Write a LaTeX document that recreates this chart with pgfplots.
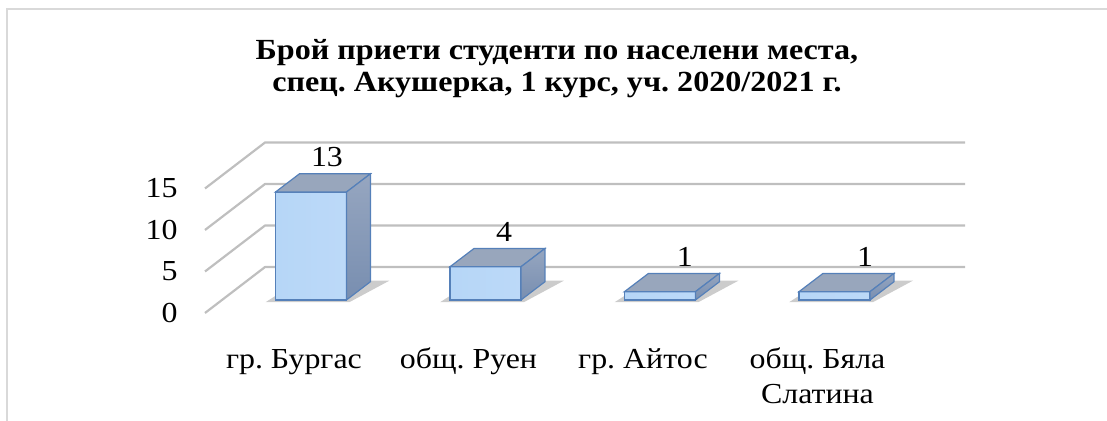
\documentclass[border=0pt]{standalone}
\usepackage{pgfplots}
\pgfplotsset{compat=1.18}
\usepackage{pgfplotstable}
\usepackage{fontspec}
\setmainfont{Liberation Serif}[FakeStretch=1.1]
\frenchspacing

\definecolor{gridc}{RGB}{191,191,191}
\definecolor{framec}{RGB}{217,217,217}
\definecolor{edgec}{RGB}{85,128,185}
\definecolor{frontL}{RGB}{182,214,247}
\definecolor{frontM}{RGB}{218,236,254}
\definecolor{frontR}{RGB}{188,217,248}
\definecolor{topc}{RGB}{152,166,188}
\definecolor{sideT}{RGB}{150,166,192}
\definecolor{sideB}{RGB}{120,142,176}

\newcommand\lbl{\fontsize{14.5}{17.5}\selectfont}

% data: category index, value, label x offset
\pgfplotstableread{
x v dx
0 13 0.092
1 4 0.107
2 1 0.143
3 1 0.175
}\data

% back wall / side wall grid line shape (front value 0)
\pgfplotstableread{
x y
-0.607 0
-0.263 5.54
3.748 5.54
}\gridshape

% faces of a pseudo-3D bar: x offset, y base, k (multiplier of value)
\pgfplotstableread{
x y k
-0.2034 1.566 0
0.2034 1.566 0
0.2034 1.566 1
-0.2034 1.566 1
}\frontface
\pgfplotstableread{
x y k
-0.2034 1.566 1
0.2034 1.566 1
0.3409 3.766 1
-0.0659 3.766 1
}\topface
\pgfplotstableread{
x y k
0.2034 1.566 0
0.3409 3.766 0
0.3409 3.766 1
0.2034 1.566 1
}\sideface
\pgfplotstableread{
x y k
-0.26 1.30 0
0.22 1.30 0
0.45 3.90 0
-0.066 3.90 0
}\shadowface

\begin{document}
\begin{tikzpicture}
\useasboundingbox (0pt,0pt) rectangle (553.5pt,-210.5pt);
\draw[framec, line width=1pt] (3.25pt,-210.5pt) -- (3.25pt,-4.75pt) -- (553.5pt,-4.75pt);
\node[anchor=base, font=\fontsize{14.6}{16}\selectfont\bfseries] at (278.5pt,-29.7pt) {Брой приети студенти по населени места,};
\node[anchor=base, font=\fontsize{14.6}{16}\selectfont\bfseries] at (278.5pt,-45.7pt) {спец. Акушерка, 1 курс, уч. 2020/2021 г.};
\begin{axis}[
  at={(102.5pt,-156.5pt)}, anchor=south west,
  scale only axis, width=380pt, height=85.5pt,
  xmin=-0.607, xmax=3.748, ymin=0, ymax=20.6,
  axis line style={draw=none},
  major tick length=0pt,
  clip=false,
  ytick={0,5,10,15},
  xtick={-0.0974,0.9026,1.9026,2.9026},
  xticklabels={\vphantom{б}гр. Бургас, \vphantom{б}общ. Руен, \vphantom{б}гр. Айтос, {\vphantom{б}общ. Бяла\\Слатина}},
  /pgf/number format/assume math mode=true,
  tick label style={font=\lbl},
  yticklabel style={anchor=east, inner sep=0pt, xshift=-13.5pt},
  xticklabel style={anchor=north, inner sep=0pt, align=center, yshift=-17.3pt},
]
\pgfplotsinvokeforeach{0,5,10,15}{
  \addplot[gridc, line width=1.1pt, line join=round] table[x=x, y expr=\thisrow{y}+#1] {\gridshape};
}
\pgfplotsinvokeforeach{0,...,3}{
  \pgfplotstablegetelem{#1}{x}\of\data \let\bx\pgfplotsretval
  \pgfplotstablegetelem{#1}{v}\of\data \let\bv\pgfplotsretval
  \addplot[draw=none, fill=black, fill opacity=0.2] table[x expr=\thisrow{x}+\bx, y expr=\thisrow{y}+\thisrow{k}*\bv] {\shadowface} -- cycle;
  \addplot[draw=edgec, line width=0.6pt, shade, left color=frontL, middle color=frontM, right color=frontR] table[x expr=\thisrow{x}+\bx, y expr=\thisrow{y}+\thisrow{k}*\bv] {\frontface} -- cycle;
  \addplot[draw=edgec, line width=0.6pt, fill=topc] table[x expr=\thisrow{x}+\bx, y expr=\thisrow{y}+\thisrow{k}*\bv] {\topface} -- cycle;
  \addplot[draw=edgec, line width=0.6pt, shade, top color=sideT, bottom color=sideB] table[x expr=\thisrow{x}+\bx, y expr=\thisrow{y}+\thisrow{k}*\bv] {\sideface} -- cycle;
}
\addplot[draw=none, nodes near coords, point meta=explicit,
  nodes near coords style={anchor=south, font=\lbl}]
  table[x expr=\thisrow{x}+\thisrow{dx}, y expr=\thisrow{v}+3.766, meta=v] {\data};
\end{axis}
\end{tikzpicture}
\end{document}
